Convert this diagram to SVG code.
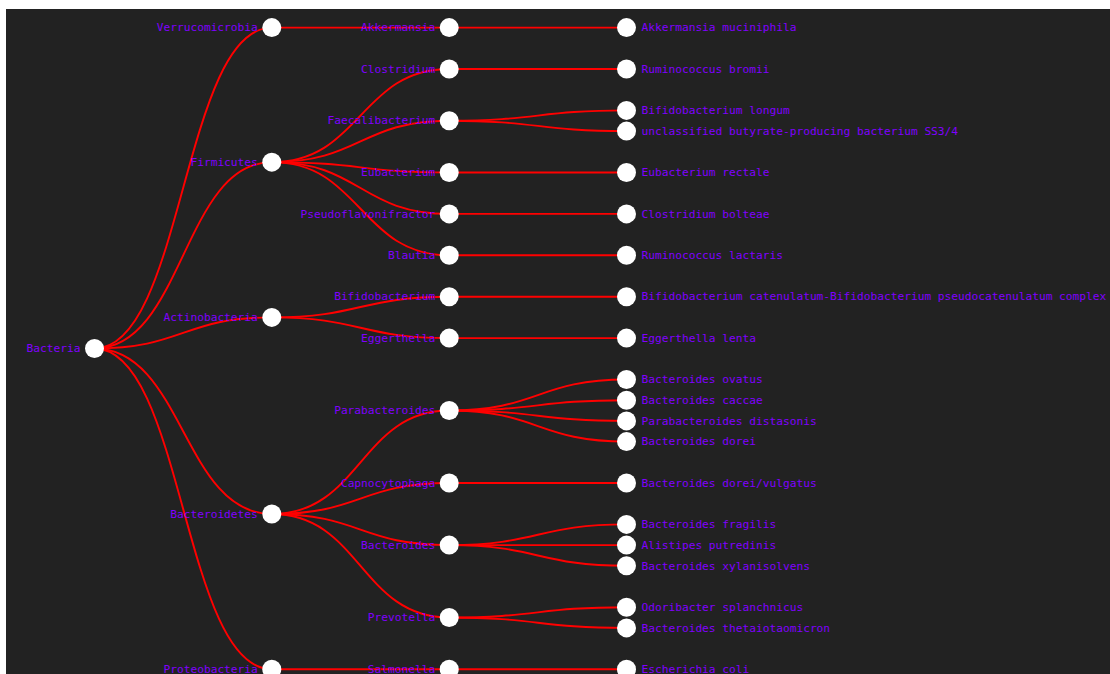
<svg xmlns="http://www.w3.org/2000/svg" width="1110" height="674" viewBox="0 0 1110 674">
<style>
.bg{fill:#ffffff}
.panel{fill:#222222}
.link{fill:none;stroke:#ff0000;stroke-width:1.9}
.node circle{fill:#ffffff;stroke:none}
.node text{font-family:"DejaVu Sans Mono","Liberation Mono",monospace;font-size:11.2px;fill:#8000ff}
.in text{text-anchor:end}
.lf text{text-anchor:start}
</style>
<rect class="bg" x="0" y="0" width="1110" height="674"/>
<rect class="panel" x="6" y="9" width="1104" height="665"/>
<g id="links">
<path class="link" d="M94.5,348.45C183.15,348.45 183.15,27.6 271.8,27.6"/>
<path class="link" d="M94.5,348.45C183.15,348.45 183.15,162.15 271.8,162.15"/>
<path class="link" d="M94.5,348.45C183.15,348.45 183.15,317.4 271.8,317.4"/>
<path class="link" d="M94.5,348.45C183.15,348.45 183.15,514.05 271.8,514.05"/>
<path class="link" d="M94.5,348.45C183.15,348.45 183.15,669.3 271.8,669.3"/>
<path class="link" d="M271.8,27.6C360.5,27.6 360.5,27.6 449.2,27.6"/>
<path class="link" d="M271.8,162.15C360.5,162.15 360.5,69 449.2,69"/>
<path class="link" d="M271.8,162.15C360.5,162.15 360.5,120.75 449.2,120.75"/>
<path class="link" d="M271.8,162.15C360.5,162.15 360.5,172.5 449.2,172.5"/>
<path class="link" d="M271.8,162.15C360.5,162.15 360.5,213.9 449.2,213.9"/>
<path class="link" d="M271.8,162.15C360.5,162.15 360.5,255.3 449.2,255.3"/>
<path class="link" d="M271.8,317.4C360.5,317.4 360.5,296.7 449.2,296.7"/>
<path class="link" d="M271.8,317.4C360.5,317.4 360.5,338.1 449.2,338.1"/>
<path class="link" d="M271.8,514.05C360.5,514.05 360.5,410.55 449.2,410.55"/>
<path class="link" d="M271.8,514.05C360.5,514.05 360.5,483 449.2,483"/>
<path class="link" d="M271.8,514.05C360.5,514.05 360.5,545.1 449.2,545.1"/>
<path class="link" d="M271.8,514.05C360.5,514.05 360.5,617.55 449.2,617.55"/>
<path class="link" d="M271.8,669.3C360.5,669.3 360.5,669.3 449.2,669.3"/>
<path class="link" d="M449.2,27.6C537.85,27.6 537.85,27.6 626.5,27.6"/>
<path class="link" d="M449.2,69C537.85,69 537.85,69 626.5,69"/>
<path class="link" d="M449.2,120.75C537.85,120.75 537.85,110.4 626.5,110.4"/>
<path class="link" d="M449.2,120.75C537.85,120.75 537.85,131.1 626.5,131.1"/>
<path class="link" d="M449.2,172.5C537.85,172.5 537.85,172.5 626.5,172.5"/>
<path class="link" d="M449.2,213.9C537.85,213.9 537.85,213.9 626.5,213.9"/>
<path class="link" d="M449.2,255.3C537.85,255.3 537.85,255.3 626.5,255.3"/>
<path class="link" d="M449.2,296.7C537.85,296.7 537.85,296.7 626.5,296.7"/>
<path class="link" d="M449.2,338.1C537.85,338.1 537.85,338.1 626.5,338.1"/>
<path class="link" d="M449.2,410.55C537.85,410.55 537.85,379.5 626.5,379.5"/>
<path class="link" d="M449.2,410.55C537.85,410.55 537.85,400.2 626.5,400.2"/>
<path class="link" d="M449.2,410.55C537.85,410.55 537.85,420.9 626.5,420.9"/>
<path class="link" d="M449.2,410.55C537.85,410.55 537.85,441.6 626.5,441.6"/>
<path class="link" d="M449.2,483C537.85,483 537.85,483 626.5,483"/>
<path class="link" d="M449.2,545.1C537.85,545.1 537.85,524.4 626.5,524.4"/>
<path class="link" d="M449.2,545.1C537.85,545.1 537.85,545.1 626.5,545.1"/>
<path class="link" d="M449.2,545.1C537.85,545.1 537.85,565.8 626.5,565.8"/>
<path class="link" d="M449.2,617.55C537.85,617.55 537.85,607.2 626.5,607.2"/>
<path class="link" d="M449.2,617.55C537.85,617.55 537.85,627.9 626.5,627.9"/>
<path class="link" d="M449.2,669.3C537.85,669.3 537.85,669.3 626.5,669.3"/>
</g>
<g id="n-bacteria" class="node in" transform="translate(94.5,348.45)"><circle r="9.5"/><text x="-14" dy="0.33em">Bacteria</text></g>
<g id="n-verrucomicrobia" class="node in" transform="translate(271.8,27.6)"><circle r="9.5"/><text x="-14" dy="0.33em">Verrucomicrobia</text></g>
<g id="n-firmicutes" class="node in" transform="translate(271.8,162.15)"><circle r="9.5"/><text x="-14" dy="0.33em">Firmicutes</text></g>
<g id="n-actinobacteria" class="node in" transform="translate(271.8,317.4)"><circle r="9.5"/><text x="-14" dy="0.33em">Actinobacteria</text></g>
<g id="n-bacteroidetes" class="node in" transform="translate(271.8,514.05)"><circle r="9.5"/><text x="-14" dy="0.33em">Bacteroidetes</text></g>
<g id="n-proteobacteria" class="node in" transform="translate(271.8,669.3)"><circle r="9.5"/><text x="-14" dy="0.33em">Proteobacteria</text></g>
<g id="n-akkermansia" class="node in" transform="translate(449.2,27.6)"><circle r="9.5"/><text x="-14" dy="0.33em">Akkermansia</text></g>
<g id="n-clostridium" class="node in" transform="translate(449.2,69)"><circle r="9.5"/><text x="-14" dy="0.33em">Clostridium</text></g>
<g id="n-faecalibacterium" class="node in" transform="translate(449.2,120.75)"><circle r="9.5"/><text x="-14" dy="0.33em">Faecalibacterium</text></g>
<g id="n-eubacterium" class="node in" transform="translate(449.2,172.5)"><circle r="9.5"/><text x="-14" dy="0.33em">Eubacterium</text></g>
<g id="n-pseudoflavonifractor" class="node in" transform="translate(449.2,213.9)"><circle r="9.5"/><text x="-14" dy="0.33em">Pseudoflavonifractor</text></g>
<g id="n-blautia" class="node in" transform="translate(449.2,255.3)"><circle r="9.5"/><text x="-14" dy="0.33em">Blautia</text></g>
<g id="n-bifidobacterium" class="node in" transform="translate(449.2,296.7)"><circle r="9.5"/><text x="-14" dy="0.33em">Bifidobacterium</text></g>
<g id="n-eggerthella" class="node in" transform="translate(449.2,338.1)"><circle r="9.5"/><text x="-14" dy="0.33em">Eggerthella</text></g>
<g id="n-parabacteroides" class="node in" transform="translate(449.2,410.55)"><circle r="9.5"/><text x="-14" dy="0.33em">Parabacteroides</text></g>
<g id="n-capnocytophaga" class="node in" transform="translate(449.2,483)"><circle r="9.5"/><text x="-14" dy="0.33em">Capnocytophaga</text></g>
<g id="n-bacteroides" class="node in" transform="translate(449.2,545.1)"><circle r="9.5"/><text x="-14" dy="0.33em">Bacteroides</text></g>
<g id="n-prevotella" class="node in" transform="translate(449.2,617.55)"><circle r="9.5"/><text x="-14" dy="0.33em">Prevotella</text></g>
<g id="n-salmonella" class="node in" transform="translate(449.2,669.3)"><circle r="9.5"/><text x="-14" dy="0.33em">Salmonella</text></g>
<g id="s-akkermansia-muciniphila" class="node lf" transform="translate(626.5,27.6)"><circle r="9.5"/><text x="15" dy="0.33em">Akkermansia muciniphila</text></g>
<g id="s-ruminococcus-bromii" class="node lf" transform="translate(626.5,69)"><circle r="9.5"/><text x="15" dy="0.33em">Ruminococcus bromii</text></g>
<g id="s-bifidobacterium-longum" class="node lf" transform="translate(626.5,110.4)"><circle r="9.5"/><text x="15" dy="0.33em">Bifidobacterium longum</text></g>
<g id="s-unclassified-ss3-4" class="node lf" transform="translate(626.5,131.1)"><circle r="9.5"/><text x="15" dy="0.33em">unclassified butyrate-producing bacterium SS3/4</text></g>
<g id="s-eubacterium-rectale" class="node lf" transform="translate(626.5,172.5)"><circle r="9.5"/><text x="15" dy="0.33em">Eubacterium rectale</text></g>
<g id="s-clostridium-bolteae" class="node lf" transform="translate(626.5,213.9)"><circle r="9.5"/><text x="15" dy="0.33em">Clostridium bolteae</text></g>
<g id="s-ruminococcus-lactaris" class="node lf" transform="translate(626.5,255.3)"><circle r="9.5"/><text x="15" dy="0.33em">Ruminococcus lactaris</text></g>
<g id="s-bifidobacterium-catenulatum" class="node lf" transform="translate(626.5,296.7)"><circle r="9.5"/><text x="15" dy="0.33em">Bifidobacterium catenulatum-Bifidobacterium pseudocatenulatum complex</text></g>
<g id="s-eggerthella-lenta" class="node lf" transform="translate(626.5,338.1)"><circle r="9.5"/><text x="15" dy="0.33em">Eggerthella lenta</text></g>
<g id="s-bacteroides-ovatus" class="node lf" transform="translate(626.5,379.5)"><circle r="9.5"/><text x="15" dy="0.33em">Bacteroides ovatus</text></g>
<g id="s-bacteroides-caccae" class="node lf" transform="translate(626.5,400.2)"><circle r="9.5"/><text x="15" dy="0.33em">Bacteroides caccae</text></g>
<g id="s-parabacteroides-distasonis" class="node lf" transform="translate(626.5,420.9)"><circle r="9.5"/><text x="15" dy="0.33em">Parabacteroides distasonis</text></g>
<g id="s-bacteroides-dorei" class="node lf" transform="translate(626.5,441.6)"><circle r="9.5"/><text x="15" dy="0.33em">Bacteroides dorei</text></g>
<g id="s-bacteroides-dorei-vulgatus" class="node lf" transform="translate(626.5,483)"><circle r="9.5"/><text x="15" dy="0.33em">Bacteroides dorei/vulgatus</text></g>
<g id="s-bacteroides-fragilis" class="node lf" transform="translate(626.5,524.4)"><circle r="9.5"/><text x="15" dy="0.33em">Bacteroides fragilis</text></g>
<g id="s-alistipes-putredinis" class="node lf" transform="translate(626.5,545.1)"><circle r="9.5"/><text x="15" dy="0.33em">Alistipes putredinis</text></g>
<g id="s-bacteroides-xylanisolvens" class="node lf" transform="translate(626.5,565.8)"><circle r="9.5"/><text x="15" dy="0.33em">Bacteroides xylanisolvens</text></g>
<g id="s-odoribacter-splanchnicus" class="node lf" transform="translate(626.5,607.2)"><circle r="9.5"/><text x="15" dy="0.33em">Odoribacter splanchnicus</text></g>
<g id="s-bacteroides-thetaiotaomicron" class="node lf" transform="translate(626.5,627.9)"><circle r="9.5"/><text x="15" dy="0.33em">Bacteroides thetaiotaomicron</text></g>
<g id="s-escherichia-coli" class="node lf" transform="translate(626.5,669.3)"><circle r="9.5"/><text x="15" dy="0.33em">Escherichia coli</text></g>
</svg>
